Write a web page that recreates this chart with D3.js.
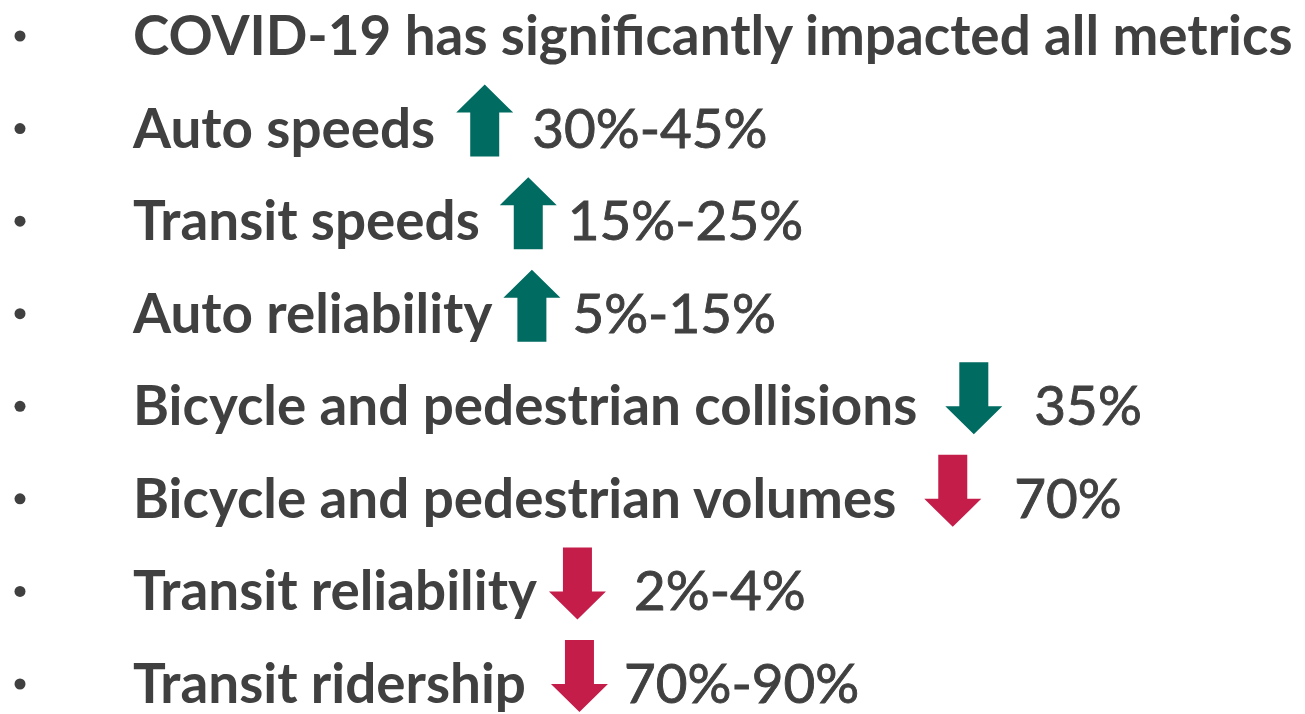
<!DOCTYPE html>
<html><head><meta charset="utf-8">
<script src="https://cdn.jsdelivr.net/npm/d3@7"></script>
<style>html,body{margin:0;padding:0;background:#fff;}svg{display:block;}</style>
</head><body><svg id="c" width="1305" height="714"></svg>
<script>
// Data
const labels = ["COVID-19 has significantly impacted all metrics","Auto speeds","Transit speeds","Auto reliability","Bicycle and pedestrian collisions","Bicycle and pedestrian volumes","Transit reliability","Transit ridership"];
const directions = [null,"up","up","up","down","down","down","down"];
const effect = [null,"good","good","good","good","bad","bad","bad"];
const valueLabels = ["","30%-45%","15%-25%","5%-15%","35%","70%","2%-4%","70%-90%"];

// Layout (spacing between label, arrow and value, per row)
const arrowGap = [0, 21, 20, 11, 28, 28, 12, 25];
const valueGap = [0, 19, 11, 12, 32, 33, 28, 16];

const W = 1305, H = 714;
const svg = d3.select("#c");
const textColor = "#404040";
const colors = {good:"#006b61", bad:"#c41d4a"};
const fontFam = "Lato, 'Open Sans', sans-serif";

// fit font size so the first line spans 133 -> ~1295
const probe = svg.append("text").attr("font-family", fontFam).attr("font-weight", 700).attr("font-size", 50).text(labels[0]);
const w50 = probe.node().getComputedTextLength();
probe.remove();
const fs = 50 * 1160 / w50;

const firstBase = Math.max(47, Math.ceil(fs * 0.99));
const y = d3.scalePoint().domain(d3.range(labels.length)).range([firstBase, 703]);

const rows = svg.selectAll("g.row").data(labels).join("g").attr("class","row")
  .attr("transform",(d,i)=>`translate(0,${y(i)})`);

rows.append("circle").attr("cx",20).attr("cy",-19).attr("r",5.5).attr("fill",textColor);

rows.append("text").attr("class","lbl").attr("x",133).attr("y",0)
  .attr("font-family",fontFam).attr("font-weight",700).attr("font-size",fs)
  .attr("fill",textColor).text(d=>d);

// arrow geometry (local, relative to left x and baseline)
const aw = 57, sw = 29, headH = 28, shaftH = 44, aTop = -63;
function arrowPath(dir){
  const h = aw/2, s = sw/2;
  if(dir==="up"){
    return `M${h},${aTop} L${aw},${aTop+headH} L${h+s},${aTop+headH} L${h+s},${aTop+headH+shaftH} L${h-s},${aTop+headH+shaftH} L${h-s},${aTop+headH} L0,${aTop+headH} Z`;
  } else {
    return `M${h-s},${aTop} L${h+s},${aTop} L${h+s},${aTop+shaftH} L${aw},${aTop+shaftH} L${h},${aTop+shaftH+headH} L0,${aTop+shaftH} L${h-s},${aTop+shaftH} Z`;
  }
}

rows.each(function(d,i){
  if(!directions[i]) return;
  const g = d3.select(this);
  const lw = g.select("text.lbl").node().getComputedTextLength();
  const ax = 133 + lw + arrowGap[i];
  g.append("path").attr("d",arrowPath(directions[i])).attr("transform",`translate(${ax},0)`)
    .attr("fill",colors[effect[i]]);
  g.append("text").attr("x",ax+aw+valueGap[i]).attr("y",0)
    .attr("font-family",fontFam).attr("font-weight",400).attr("font-size",fs)
    .attr("fill",textColor).attr("stroke",textColor).attr("stroke-width",0.9)
    .attr("paint-order","stroke").text(valueLabels[i]);
});
</script></body></html>
